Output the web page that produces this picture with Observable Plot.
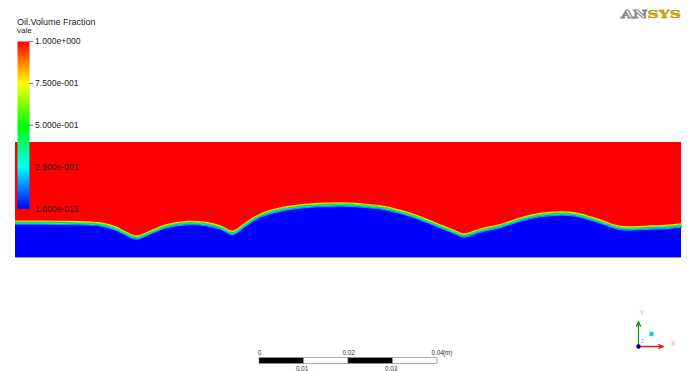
<!DOCTYPE html>
<html><head><meta charset="utf-8">
<script src="https://cdn.jsdelivr.net/npm/d3@7"></script>
<script src="https://cdn.jsdelivr.net/npm/@observablehq/plot@0.6"></script>
<style>
html,body{margin:0;padding:0;background:#fff;}
#wrap{position:relative;width:691px;height:371px;overflow:hidden;font-family:"Liberation Sans",Arial,sans-serif;}
#wrap svg{position:absolute;left:0;top:0;}
.lbl{position:absolute;white-space:nowrap;line-height:1;color:#222;}
.logo{position:absolute;left:621px;top:9px;font-family:"DejaVu Serif",serif;font-weight:bold;font-size:11px;line-height:1;transform:scaleX(1.42);transform-origin:left top;white-space:nowrap;}
.logo .an{color:#fff;-webkit-text-stroke:1px #8a8a8a;}
.logo .sys{color:#d6ad00;-webkit-text-stroke:0.4px #b08a00;}
</style></head><body><div id="wrap"></div>
<script>
// ---- data (metres) ----
const domainWidth = 0.15;
const domainHeight = 0.026;
const interfaceX = [0, 0.0056, 0.0124, 0.0191, 0.0225, 0.0248, 0.0273, 0.0304, 0.0338, 0.0387, 0.0428, 0.0462, 0.0489, 0.0518, 0.0552, 0.0597, 0.0642, 0.0687, 0.0732, 0.0777, 0.0822, 0.0867, 0.0912, 0.0957, 0.0991, 0.1009, 0.1047, 0.1092, 0.1137, 0.1182, 0.1228, 0.1261, 0.1295, 0.1329, 0.1356, 0.1385, 0.1430, 0.1464, 0.15];
const interfaceY = [0.0079, 0.0079, 0.0078, 0.00746, 0.00656, 0.00543, 0.00452, 0.00565, 0.00701, 0.0078, 0.00757, 0.00678, 0.00554, 0.00746, 0.0095, 0.01085, 0.01153, 0.01187, 0.01198, 0.01176, 0.01131, 0.01029, 0.00882, 0.00701, 0.00565, 0.00497, 0.0061, 0.00712, 0.00859, 0.00961, 0.00995, 0.00972, 0.00882, 0.00769, 0.00678, 0.00656, 0.00678, 0.0069, 0.00723];
const legendTitle = "Oil.Volume Fraction";
const legendSubtitle = "vale";
const legendTicks = [1, 0.75, 0.5, 0.25, 0];
const legendLabels = ["1.000e+000", "7.500e-001", "5.000e-001", "2.500e-001", "1.000e-015"];
const colorStops = [0, 0.25, 0.5, 0.75, 1];
const colorRange = ["#0000ff", "#00ffff", "#00ff00", "#ffff00", "#ff0000"];
const bandLevels = [0.78, 0.62, 0.48, 0.32, 0.15];
const bandOffsets = [-1.6, -0.8, 0, 0.8, 1.6];
const scaleSegments = [0, 0.01, 0.02, 0.03, 0.04];
const scaleTopTicks = [0, 0.02, 0.04];
const scaleBottomTicks = [0.01, 0.03];
const scaleUnit = "(m)";

const iface = interfaceX.map((x, i) => ({x, y: interfaceY[i]}));
const colorScale = {type: "linear", domain: colorStops, range: colorRange};
const wrap = document.getElementById("wrap");
const transparent = "background:transparent;overflow:visible;font-family:'Liberation Sans',Arial,sans-serif;";

// ---- main contour domain ----
const main = Plot.plot({
  width: 691, height: 371,
  style: transparent,
  x: {domain: [0, domainWidth], range: [15, 681], axis: null},
  y: {domain: [0, domainHeight], range: [257, 142], axis: null},
  color: colorScale,
  marks: [
    Plot.rect([{x1: 0, x2: domainWidth, y1: 0, y2: domainHeight}], {x1: "x1", x2: "x2", y1: "y1", y2: "y2", fill: () => 1}),
    Plot.areaY(iface, {x: "x", y1: 0, y2: "y", fill: () => 0, curve: "catmull-rom"}),
    ...bandLevels.map((v, i) => Plot.line(iface, {x: "x", y: "y", stroke: () => v, strokeWidth: 1.1, dy: bandOffsets[i], curve: "catmull-rom"})),
    Plot.ruleY([0], {x1: 0, x2: domainWidth, stroke: "#8f8fd8", strokeWidth: 1})
  ]
});
wrap.appendChild(main);

// ---- colour legend ----
const legend = Plot.plot({
  width: 691, height: 371,
  style: transparent,
  x: {domain: [0, 1], range: [17, 29], axis: null},
  y: {domain: [0, 1], range: [208.5, 41], axis: null},
  color: colorScale,
  marks: [
    Plot.raster({x1: 0, x2: 1, y1: 0, y2: 1, width: 1, height: 256, fill: (x, y) => y, imageRendering: "auto"}),
    Plot.ruleY(legendTicks, {x1: 1, x2: 1.35, stroke: "#555", strokeWidth: 0.8}),
    Plot.text(legendTicks, {x: 1, y: d => d, text: (d, i) => legendLabels[i], dx: 5.5, textAnchor: "start", fontSize: 8.6, fill: "#222"})
  ]
});
wrap.appendChild(legend);

// ---- length scale bar ----
const segs = scaleSegments.slice(0, -1).map((s, i) => ({x1: s, x2: scaleSegments[i + 1], fill: i % 2 === 0 ? "#000" : "#fff"}));
const scalebar = Plot.plot({
  width: 691, height: 371,
  style: transparent,
  x: {domain: [0, 0.04], range: [259, 437], axis: null},
  y: {domain: [0, 1], range: [363.3, 357.7], axis: null},
  marks: [
    Plot.rect(segs, {x1: "x1", x2: "x2", y1: 0, y2: 1, fill: "fill", stroke: "#777", strokeWidth: 0.6}),
    Plot.text(scaleTopTicks, {x: d => d, y: 1, text: d => String(d), dy: -5, fontSize: 6.3, fill: "#333", textAnchor: d => d === 0.04 ? "end" : "middle"}),
    Plot.text([0.04], {x: d => d, y: 1, text: () => scaleUnit, dx: 5.5, dy: -5, fontSize: 6.3, fill: "#333", textAnchor: "start"}),
    Plot.text(scaleBottomTicks, {x: d => d, y: 0, text: d => String(d), dx: -2, dy: 5.5, fontSize: 6.3, fill: "#333"})
  ]
});
wrap.appendChild(scalebar);

// ---- axis triad ----
const triadAxes = [
  {x2: 1, y2: 0, color: "#ee1111", label: "X", lc: "#ff9a9a"},
  {x2: 0, y2: 1, color: "#119911", label: "Y", lc: "#9ad29a"}
];
const triad = Plot.plot({
  width: 691, height: 371,
  style: transparent,
  x: {domain: [0, 1], range: [638, 663], axis: null},
  y: {domain: [0, 1], range: [346, 321], axis: null},
  marks: [
    Plot.arrow(triadAxes, {x1: 0, y1: 0, x2: "x2", y2: "y2", stroke: "color", strokeWidth: 1.3, headLength: 6, headAngle: 45}),
    Plot.text(triadAxes, {x: d => d.x2 * 1.38 + (d.x2 ? 0 : 0.12), y: d => d.y2 * 1.35 + (d.y2 ? 0 : 0.12), text: "label", fill: "lc", fontSize: 7}),
    Plot.dot([{x: 0.52, y: 0.5}], {x: "x", y: "y", r: 2.4, fill: "#22cccc"}),
    Plot.dot([{x: 0, y: 0}], {x: "x", y: "y", r: 2.2, fill: "#0000aa"}),
    Plot.text([{x: 0, y: 0}], {x: "x", y: "y", text: () => "Z", dx: 4, dy: -5, fontSize: 5, fill: "#8888ff"})
  ]
});
wrap.appendChild(triad);

// ---- html texts ----
function addText(txt, left, top, size) {
  const d = document.createElement("div");
  d.className = "lbl"; d.textContent = txt;
  d.style.left = left + "px"; d.style.top = top + "px"; d.style.fontSize = size + "px";
  wrap.appendChild(d);
}
addText(legendTitle, 17, 17.5, 9);
addText(legendSubtitle, 17, 26.5, 8);
const logo = document.createElement("div");
logo.className = "logo";
logo.innerHTML = '<span class="an">AN</span><span class="sys">SYS</span>';
wrap.appendChild(logo);
</script></body></html>
